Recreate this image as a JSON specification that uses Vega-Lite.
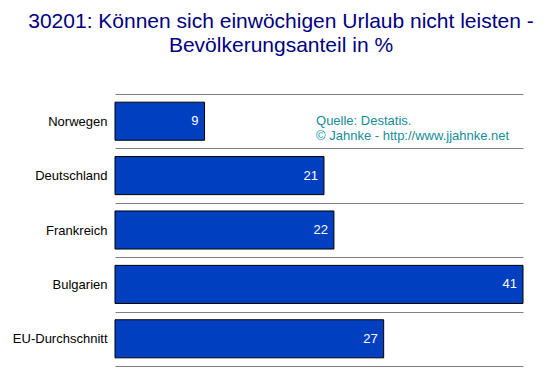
{
  "$schema": "https://vega.github.io/schema/vega-lite/v6.json",
  "autosize": "none",
  "width": 408,
  "height": 272,
  "padding": {"left": 115, "top": 94, "right": 30, "bottom": 10},
  "background": "white",
  "title": {
    "text": ["30201: Können sich einwöchigen Urlaub nicht leisten -", "Bevölkerungsanteil in %"],
    "font": "Liberation Sans",
    "fontSize": 21,
    "fontWeight": "normal",
    "color": "#000080",
    "anchor": "middle",
    "frame": "group",
    "dx": -38,
    "offset": 38,
    "lineHeight": 24
  },
  "config": {"view": {"stroke": null}},
  "data": {
    "values": [
      {"land": "Norwegen", "wert": 9},
      {"land": "Deutschland", "wert": 21},
      {"land": "Frankreich", "wert": 22},
      {"land": "Bulgarien", "wert": 41},
      {"land": "EU-Durchschnitt", "wert": 27}
    ]
  },
  "encoding": {
    "y": {
      "field": "land",
      "type": "nominal",
      "sort": null,
      "scale": {"paddingInner": 0.3, "paddingOuter": 0.15},
      "axis": {
        "title": null,
        "ticks": false,
        "domain": false,
        "grid": true,
        "gridColor": "#808080",
        "gridWidth": 1,
        "gridOpacity": 1,
        "tickOffset": -27.2,
        "labelOffset": 27.2,
        "labelFont": "Liberation Sans",
        "labelFontSize": 13,
        "labelColor": "black",
        "labelPadding": 8
      }
    }
  },
  "layer": [
    {
      "mark": {"type": "bar", "color": "#0040c0", "stroke": "black", "strokeWidth": 1},
      "encoding": {
        "x": {
          "field": "wert",
          "type": "quantitative",
          "scale": {"domain": [0, 41], "nice": false},
          "axis": {
            "title": null,
            "labels": false,
            "ticks": false,
            "grid": false,
            "domain": true,
            "domainColor": "#808080",
            "domainWidth": 1
          }
        }
      }
    },
    {
      "mark": {"type": "text", "align": "right", "baseline": "middle", "dx": -6, "color": "white", "font": "Liberation Sans", "fontSize": 13},
      "encoding": {
        "x": {"field": "wert", "type": "quantitative"},
        "text": {"field": "wert", "type": "quantitative"}
      }
    },
    {
      "data": {"values": [{"land": "Norwegen", "pos": 20.2, "txt": ["Quelle: Destatis.", "© Jahnke - http://www.jjahnke.net"]}]},
      "mark": {"type": "text", "align": "left", "baseline": "middle", "color": "#168c98", "font": "Liberation Sans", "fontSize": 13, "lineHeight": 15},
      "encoding": {
        "x": {"field": "pos", "type": "quantitative"},
        "text": {"field": "txt"}
      }
    }
  ]
}
